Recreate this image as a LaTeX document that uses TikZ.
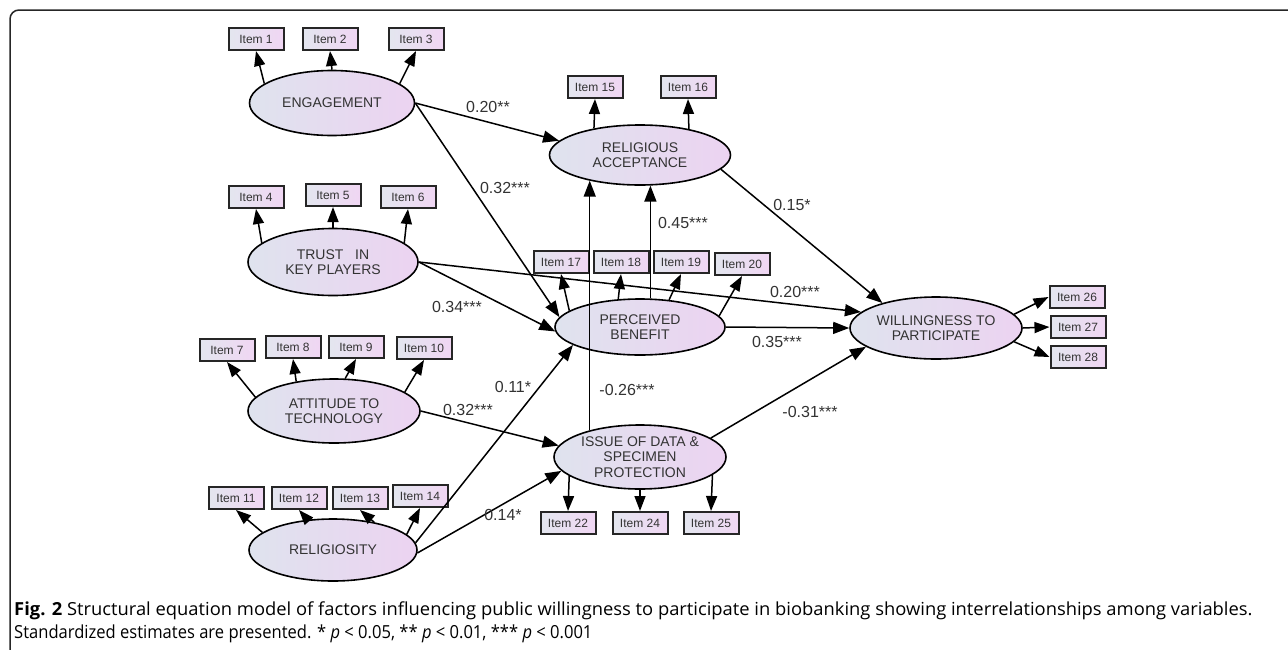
\documentclass[tikz,border=0pt]{standalone}
\usepackage{fontspec}
\usepackage{graphicx}
\usepackage{xcolor}
\usetikzlibrary{shapes.geometric,arrows.meta}
\setmainfont{Liberation Sans}
\newfontfamily\capfamily{Open Sans}

\definecolor{latl}{HTML}{DFE3EE}
\definecolor{latr}{HTML}{ECD3F1}
\definecolor{iteml}{HTML}{E3E6EF}
\definecolor{itemr}{HTML}{F0D6F3}
\definecolor{txt}{HTML}{333333}

\newcommand{\latfont}{\fontsize{14}{15.5}\selectfont}
\newcommand{\itemfont}{\fontsize{12}{14}\selectfont}
\newcommand{\estfont}{\fontsize{16}{18}\selectfont}
\newcommand{\capfont}{\capfamily\fontsize{18}{21}\selectfont}

\tikzset{
  latent/.style={ellipse, draw=black, line width=1.6pt, left color=latl, right color=latr,
    minimum width=170pt, minimum height=62pt, inner sep=0pt, align=center, font=\latfont, text=txt},
  item/.style={rectangle, draw=black!85, line width=2pt, left color=iteml, right color=itemr,
    minimum width=55pt, minimum height=22pt, inner xsep=4pt, inner ysep=0pt, font=\itemfont, text=txt},
  ind/.style={line width=1.5pt, -{Triangle[length=15pt,width=11pt]}},
  reg/.style={line width=1.5pt, -{Triangle[length=16pt,width=12pt]}},
  est/.style={font=\estfont, text=txt, inner sep=1pt}
}

\begin{document}
\begin{tikzpicture}[x=1pt,y=-1pt]
\useasboundingbox (0,0) rectangle (1288,649);
\fill[white] (0,0) rectangle (1288,649);
% frame
\draw[line width=1.5pt, black!85, rounded corners=9pt] (1292,10) -- (10,10) -- (10,653);

% latent variables
\node[latent, minimum width=165pt, minimum height=65pt] (eng) at (332,103) {ENGAGEMENT};
\node[latent, minimum width=181pt, minimum height=60pt] (ra) at (640,155) {RELIGIOUS\\ACCEPTANCE};
\node[latent, minimum height=67pt] (trust) at (333,262) {TRUST\ \ \ IN\\KEY PLAYERS};
\node[latent, minimum height=56pt] (pb) at (640,327) {PERCEIVED\\BENEFIT};
\node[latent, minimum width=172pt] (wtp) at (936,328) {WILLINGNESS TO\\PARTICIPATE};
\node[latent, minimum width=172pt, minimum height=64pt] (att) at (334,411) {ATTITUDE TO\\TECHNOLOGY};
\node[latent, minimum width=168pt] (rel) at (333,550) {RELIGIOSITY};
\node[latent, minimum width=172pt, minimum height=64pt] (iss) at (640,457) {ISSUE OF DATA \&\\SPECIMEN\\PROTECTION};

% observed items
\foreach \n/\x/\y in {1/256/39, 2/330/39, 3/416/39, 4/256/197, 5/333/195, 6/408/197,
    7/227/350, 8/293/347, 9/356/347, 10/424/348, 11/236/498, 12/299/498, 13/360/498, 14/420/496,
    15/595/87, 16/688/87, 17/561/262, 18/621/262, 19/681/262, 20/742/264,
    22/568/523, 24/640/523, 25/711/523, 26/1077/297, 27/1078/327, 28/1078/357}
  \node[item] (i\n) at (\x,\y) {Item \n};

% measurement paths
\foreach \l/\a/\i in {eng/164/1, eng/90/2, eng/16/3, trust/165/4, trust/90/5, trust/15/6,
    att/170/7, att/142/8, att/71/9, att/15/10, rel/166/11, rel/130/12, rel/34/13, rel/12/14,
    ra/150/15, ra/28/16, pb/167/17, pb/128/18, pb/43/19, pb/8/20}
  \draw[ind] (\l.\a) -- (i\i.south);
\foreach \a/\i in {195/22, -90/24, -14/25}
  \draw[ind] (iss.\a) -- (i\i.north);
\foreach \a/\i in {10/26, 0/27, -10/28}
  \draw[ind] (wtp.\a) -- (i\i.west);

% structural paths
\draw[reg] (eng.east) -- (ra.170);
\draw[reg] (eng.east) -- (pb.173);
\draw[reg] (trust.east) -- (pb.183);
\draw[reg] (trust.east) -- (wtp.168);
\draw[reg] (pb.70) -- (pb.70 |- ra.-71);
\draw[reg] (iss.152) -- (iss.152 |- ra.207);
\draw[reg] (pb.east) -- (wtp.west);
\draw[reg] (ra.-10) -- (wtp.155);
\draw[reg] (att.east) -- (iss.172);
\draw[reg] (rel.5) -- (pb.195);
\draw[reg] (rel.-2) -- (iss.190);
\draw[reg] (iss.15) -- (wtp.195);

% estimates
\node[est] (e1) at (488,107) {0.20**};
\node[est] (e2) at (505,188) {0.32***};
\node[est] (e3) at (457,307) {0.34***};
\node[est] (e4) at (795,292) {0.20***};
\node[est] (e5) at (683,223) {0.45***};
\node[est] (e6) at (627,390) {-0.26***};
\node[est] (e7) at (777,342) {0.35***};
\node[est] (e8) at (792,205) {0.15*};
\node[est] (e9) at (468,410) {0.32***};
\node[est] (e10) at (513,387) {0.11*};
\node[est] (e11) at (503,515) {0.14*};
\node[est] (e12) at (810,412) {-0.31***};

% caption
\node[anchor=base west, inner sep=0pt, font=\capfont] (cap1) at (14,615) {\scalebox{1.02}[1]{\textbf{Fig. 2} Structural equation model of factors influencing public willingness to participate in biobanking showing interrelationships among variables.}};
\node[anchor=base west, inner sep=0pt, font=\capfont] (cap2) at (14,638) {\scalebox{0.92}[1]{Standardized estimates are presented. * \textit{p} < 0.05, ** \textit{p} < 0.01, *** \textit{p} < 0.001}};
\end{tikzpicture}
\end{document}
